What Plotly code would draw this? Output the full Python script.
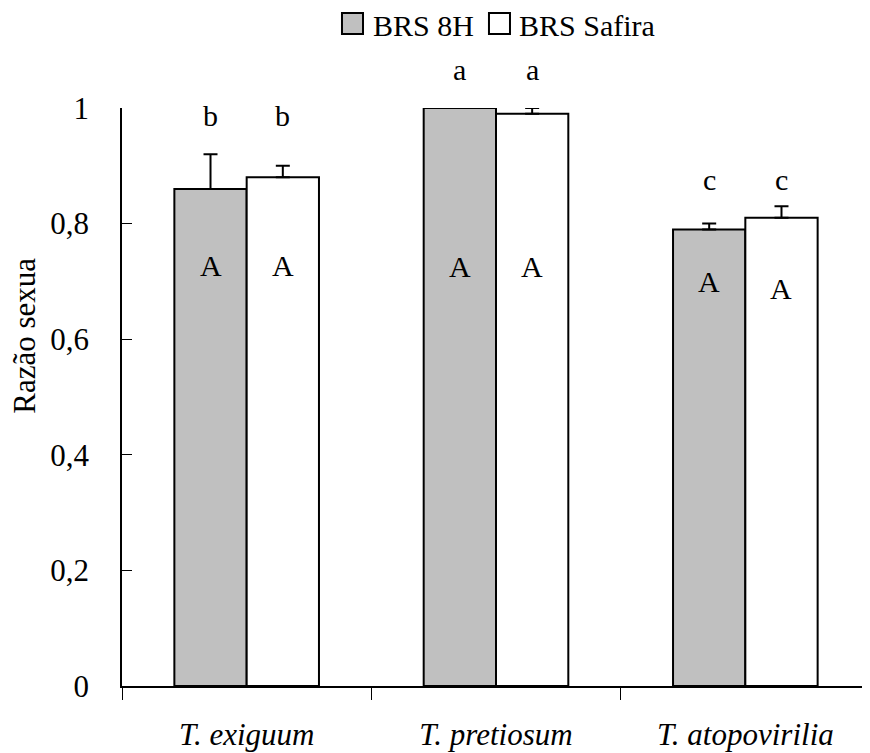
import plotly.graph_objects as go

categories = ["T. exiguum", "T. pretiosum", "T. atopovirilia"]
series_names = ["BRS 8H", "BRS Safira"]
brs8h = [0.86, 1.00, 0.79]
brs8h_err = [0.06, 0.0, 0.01]
safira = [0.88, 0.99, 0.81]
safira_err = [0.02, 0.01, 0.02]
lower_letters = [["b", "b"], ["a", "a"], ["c", "c"]]
upper_letters = [["A", "A"], ["A", "A"], ["A", "A"]]
yticks = [0, 0.2, 0.4, 0.6, 0.8, 1.0]
ytick_text = ["0", "0,2", "0,4", "0,6", "0,8", "1"]
y_title = "Razão sexua"

FONT = "Liberation Serif, Times New Roman, Times, serif"
GRAY = "#C0C0C0"
bargap = 0.42
colors = [GRAY, "white"]

fig = go.Figure()
for name, vals, errs, col in [(series_names[0], brs8h, brs8h_err, GRAY),
                              (series_names[1], safira, safira_err, "white")]:
    fig.add_trace(go.Bar(
        name=name, x=categories, y=vals, showlegend=False, cliponaxis=False,
        marker=dict(color=col, line=dict(color="black", width=2)),
        error_y=dict(type="data", array=errs, arrayminus=[0] * len(errs), symmetric=False,
                     color="black", thickness=2, width=7),
    ))

half = (1 - bargap) / 4
lower_y = [0.987, 1.067, 0.876]
upper_y = [[0.728, 0.728], [0.725, 0.725], [0.699, 0.687]]
ann = []
for i, cat in enumerate(categories):
    for j, off in enumerate([-half, half]):
        # y axis range is [0, 1], so paper coordinates equal data values
        ann.append(dict(x=i + off, y=lower_y[i], xref="x", yref="paper", yanchor="middle",
                        text=lower_letters[i][j], showarrow=False,
                        font=dict(family=FONT, size=30, color="black")))
        ann.append(dict(x=i + off, y=upper_y[i][j], xref="x", yref="paper", yanchor="middle",
                        text=upper_letters[i][j], showarrow=False,
                        font=dict(family=FONT, size=30, color="black")))
ann.append(dict(x=0, y=0.606, xref="paper", yref="paper", xanchor="center", yanchor="middle",
                xshift=-97, textangle=-90, text=y_title, showarrow=False,
                font=dict(family=FONT, size=31, color="black")))

# legend drawn as swatch + label (layout positions in paper units)
leg_swatch_x = [0.2941, 0.4906]
leg_text_x = [0.3342, 0.5294]
leg_sw_w = 0.0281
leg_y0, leg_y1 = 1.128, 1.1644
leg_text_y = 1.142
shapes = []
for name, col, sx, tx in zip(series_names, colors, leg_swatch_x, leg_text_x):
    shapes.append(dict(type="rect", xref="paper", yref="paper", x0=sx, x1=sx + leg_sw_w,
                       y0=leg_y0, y1=leg_y1, fillcolor=col, line=dict(color="black", width=2)))
    ann.append(dict(x=tx, y=leg_text_y, xref="paper", yref="paper", xanchor="left",
                    yanchor="middle", text=name, showarrow=False, borderpad=0,
                    font=dict(family=FONT, size=30, color="black")))

fig.update_layout(
    width=862, height=745,
    paper_bgcolor="white", plot_bgcolor="white",
    margin=dict(l=114, r=0, t=100, b=67, autoexpand=False),
    barmode="group", bargap=bargap, bargroupgap=0,
    font=dict(family=FONT, size=30, color="black"),
    showlegend=False,
    annotations=ann,
    shapes=shapes,
)
fig.update_xaxes(
    showline=True, linecolor="black", linewidth=1.5,
    ticks="outside", tickson="boundaries", ticklen=12, tickcolor="black",
    tickfont=dict(family=FONT, size=31, color="black", style="italic"),
    ticklabelstandoff=20,
    showgrid=False, zeroline=False, range=[-0.5, 2.5], automargin=False,
)
fig.update_yaxes(
    range=[0, 1], tickvals=yticks, ticktext=ytick_text,
    showline=True, linecolor="black", linewidth=1.5,
    ticks="inside", ticklen=10, tickcolor="black",
    tickfont=dict(family=FONT, size=31, color="black"),
    ticklabelstandoff=25,
    showgrid=False, zeroline=False, automargin=False,
)

fig.write_html("out.html")
